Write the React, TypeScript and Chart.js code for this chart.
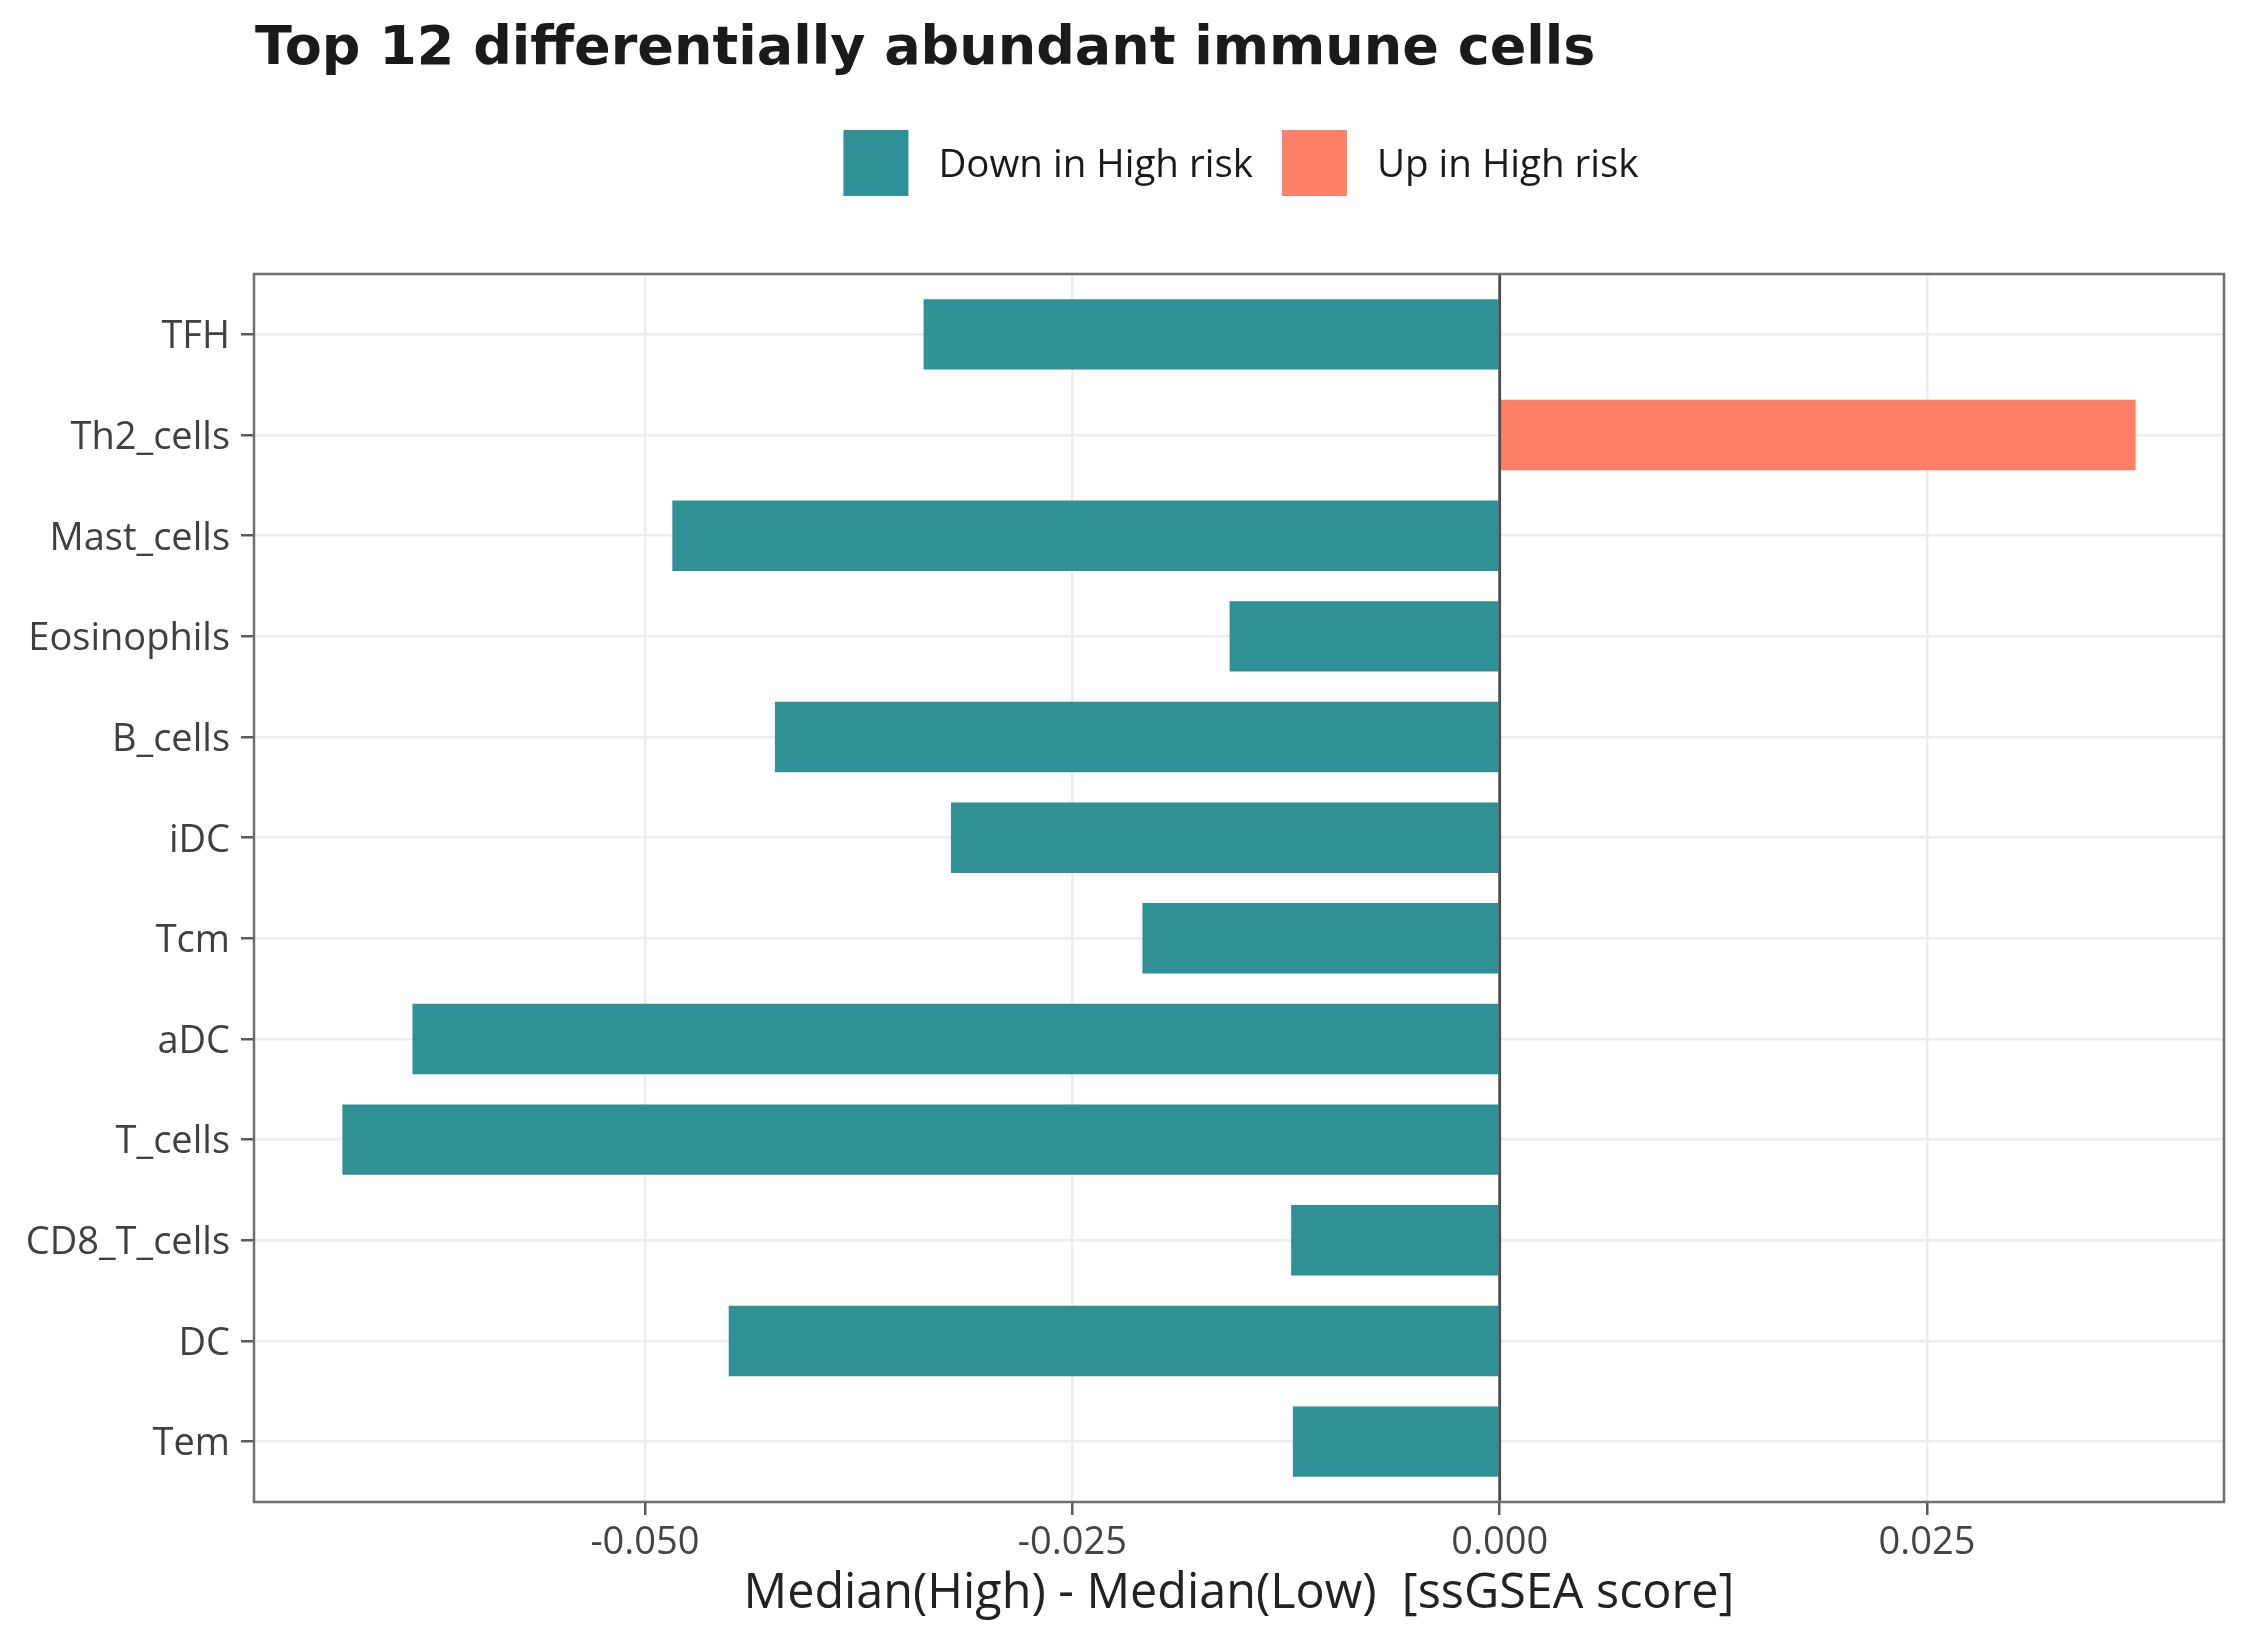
import { useEffect, useRef } from 'react';
import { Chart, registerables } from 'chart.js';

Chart.register(...registerables);

const categories = ['TFH', 'Th2_cells', 'Mast_cells', 'Eosinophils', 'B_cells', 'iDC', 'Tcm', 'aDC', 'T_cells', 'CD8_T_cells', 'DC', 'Tem'];
const diffValues = [-0.0337, 0.0372, -0.0484, -0.0158, -0.0424, -0.0321, -0.0209, -0.0636, -0.0677, -0.0122, -0.0451, -0.0121];
const xTicks = [-0.05, -0.025, 0, 0.025];
const seriesNames = ['Down in High risk', 'Up in High risk'];
const seriesColors = ['#2F9196', '#FF7F69'];
const titleText = 'Top 12 differentially abundant immune cells';
const xTitle = 'Median(High) - Median(Low)  [ssGSEA score]';

const decorPlugin = {
  id: 'decor',
  afterDatasetsDraw(chart: any) {
    const { ctx, chartArea: a, scales } = chart;
    const x0 = scales.x.getPixelForValue(0);
    ctx.save();
    ctx.strokeStyle = '#4d4d4d';
    ctx.lineWidth = 2.8;
    ctx.beginPath();
    ctx.moveTo(x0, a.top);
    ctx.lineTo(x0, a.bottom);
    ctx.stroke();
    ctx.strokeStyle = '#6f6f6f';
    ctx.lineWidth = 2.5;
    ctx.strokeRect(a.left, a.top, a.right - a.left, a.bottom - a.top);
    ctx.restore();
  },
  afterDraw(chart: any) {
    const { ctx, chartArea: a } = chart;
    ctx.save();
    // title
    ctx.fillStyle = '#1a1a1a';
    ctx.font = 'bold 54px "DejaVu Sans"';
    ctx.textAlign = 'left';
    ctx.textBaseline = 'alphabetic';
    ctx.fillText(titleText, a.left + 1, 64);
    // legend
    ctx.font = '38.5px "Open Sans"';
    const boxW = 65;
    const boxH = 66;
    const gapText = 30;
    const gapItem = 29;
    const widths = seriesNames.map((s) => ctx.measureText(s).width);
    let total = 0;
    widths.forEach((w, i) => {
      total += boxW + gapText + w + (i < widths.length - 1 ? gapItem : 0);
    });
    let x = (a.left + a.right) / 2 - total / 2 + 2;
    seriesNames.forEach((s, i) => {
      ctx.fillStyle = seriesColors[i];
      ctx.fillRect(x, 130, boxW, boxH);
      ctx.fillStyle = '#1a1a1a';
      ctx.fillText(s, x + boxW + gapText, 177);
      x += boxW + gapText + widths[i] + gapItem;
    });
    ctx.restore();
  },
};

export default function App() {
  const ref = useRef<HTMLCanvasElement | null>(null);

  useEffect(() => {
    if (!ref.current) return;
    Chart.defaults.font.family = '"Open Sans"';
    const chart = new Chart(ref.current, {
      type: 'bar',
      data: {
        datasets: [
          {
            label: 'diff',
            data: diffValues.map((v, i) => ({ x: v, y: i })),
            backgroundColor: diffValues.map((v) => (v < 0 ? seriesColors[0] : seriesColors[1])),
            borderWidth: 0,
            barPercentage: 0.7,
            categoryPercentage: 1,
          },
        ],
      },
      options: {
        indexAxis: 'y',
        responsive: false,
        animation: false,
        devicePixelRatio: 1,
        layout: { padding: { top: 274, right: 26, bottom: 0, left: 0 } },
        plugins: {
          legend: { display: false },
          tooltip: { enabled: false },
          title: { display: false },
        },
        scales: {
          x: {
            type: 'linear',
            min: -0.07287,
            max: 0.04237,
            offset: false,
            afterBuildTicks: (scale: any) => {
              scale.ticks = xTicks.map((v) => ({ value: v }));
            },
            afterFit: (scale: any) => {
              scale.height = 148;
            },
            border: { display: false },
            grid: {
              offset: false,
              color: '#EDEDED',
              lineWidth: 2.5,
              drawTicks: true,
              tickLength: 13,
              tickColor: '#5a5a5a',
              tickWidth: 2.5,
            },
            ticks: {
              autoSkip: false,
              maxRotation: 0,
              padding: 5,
              color: '#444444',
              font: { size: 38, family: '"Open Sans"' },
              callback: (v: any) => Number(v).toFixed(3),
            },
            title: {
              display: true,
              text: xTitle,
              color: '#222222',
              font: { size: 48.5, family: '"Open Sans"' },
              padding: { top: 0, bottom: 27 },
            },
          },
          y: {
            type: 'linear',
            reverse: true,
            min: -0.6,
            max: 11.6,
            offset: false,
            afterBuildTicks: (scale: any) => {
              scale.ticks = categories.map((_, i) => ({ value: i }));
            },
            afterFit: (scale: any) => {
              scale.width = 254;
            },
            border: { display: false },
            grid: {
              offset: false,
              color: '#EDEDED',
              lineWidth: 2.5,
              drawTicks: true,
              tickLength: 13,
              tickColor: '#5a5a5a',
              tickWidth: 2.5,
            },
            ticks: {
              autoSkip: false,
              padding: 11,
              labelOffset: 3,
              color: '#404040',
              font: { size: 38, family: '"Open Sans"' },
              callback: (v: any) => categories[Math.round(Number(v))] ?? '',
            },
          },
        },
      },
      plugins: [decorPlugin],
    });
    return () => chart.destroy();
  }, []);

  return (
    <div style={{ position: 'fixed', left: 0, top: 0, width: 2250, height: 1650, background: '#ffffff' }}>
      <canvas ref={ref} width={2250} height={1650} style={{ width: 2250, height: 1650, display: 'block' }} />
    </div>
  );
}
